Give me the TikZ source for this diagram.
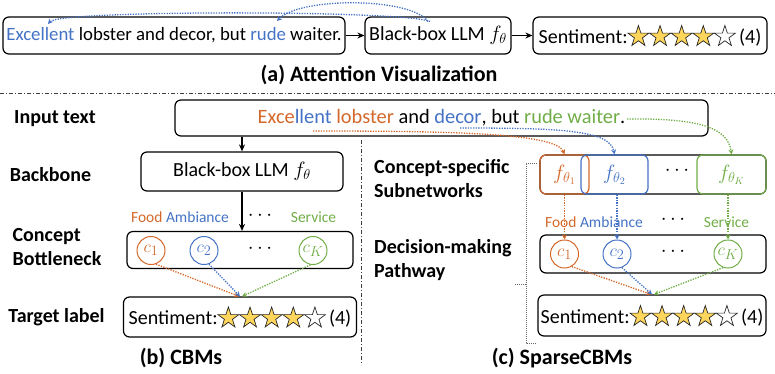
\documentclass[tikz,border=0pt]{standalone}
\usepackage{fontspec}
\setmainfont{Carlito}
\usetikzlibrary{shapes.geometric,arrows.meta}
\definecolor{cor}{RGB}{212,104,42}
\definecolor{cbl}{RGB}{68,114,196}
\definecolor{cgr}{RGB}{112,173,71}
\definecolor{starfill}{RGB}{255,214,92}
\newcommand{\fstar}[1]{\tikz[baseline=-6.5pt,x=1pt,y=1pt,sharp corners]\node[star,star points=5,star point ratio=2.6,draw=black!85,fill=#1,line width=0.7pt,minimum size=22pt,inner sep=0pt,sharp corners]{};}
\newcommand{\rating}{Sentiment:\fstar{starfill}\fstar{starfill}\fstar{starfill}\fstar{starfill}\fstar{white}\,(4)}
\begin{document}
\begin{tikzpicture}[x=1pt,y=-1pt,
  box/.style={draw=black,line width=1.2pt,rounded corners=6pt,inner sep=0pt,align=center},
  txt/.style={font=\fontsize{20}{23}\selectfont},
  sm/.style={font=\fontsize{15.5}{18}\selectfont},
  lbl/.style={font=\fontsize{20}{24}\selectfont\bfseries,align=left,inner sep=0pt},
  ttl/.style={font=\fontsize{22}{26}\selectfont\bfseries,inner sep=0pt},
  arr/.style={-{Stealth[length=7pt,width=6pt]},line width=1.5pt},
  dotln/.style={line width=1.3pt,dash pattern=on 1.3pt off 1.3pt},
  datt/.style={dotln,-{Stealth[length=5pt,width=5pt]}},
  dashdotln/.style={line width=1pt,black!75,dash pattern=on 4pt off 2pt on 1pt off 2pt},
  circ/.style={circle,line width=1pt,minimum size=28pt,inner sep=0pt,font=\fontsize{19}{22}\selectfont},
  ]
\useasboundingbox (0,0) rectangle (775,373);

% ---------- (a) ----------
\node[box,font=\fontsize{18.8}{22}\selectfont,minimum width=342pt,minimum height=37pt] (a1) at (174,35.5)
  {\textcolor{cbl}{Excellent} lobster and decor, but \textcolor{cbl}{rude} waiter.};
\node[box,txt,minimum width=146pt,minimum height=37pt] (a2) at (438,35.5) {Black-box LLM $f_\theta$};
\node[box,txt,minimum width=234pt,minimum height=37pt] (a3) at (650,35.5) {\rating};
\draw[arr] (a1) -- (a2);
\draw[arr] (a2) -- (a3);
\coordinate (wExc) at (48,24);
\coordinate (wRude) at (277,21);
\draw[datt,cbl] ([shift={(-8,5)}]a2.north) .. controls (400,10) and (60,10) .. (wExc);
\draw[datt,cbl] ([shift={(-10,5)}]a2.north) .. controls (410,-3) and (300,-3) .. (wRude);
\node[ttl] (ta) at (379,75) {(a) Attention Visualization};

\draw[dashdotln] (0,93) -- (775,93);
\draw[dashdotln] (361,140) -- (361,365);

% ---------- left labels ----------
\node[lbl] (l1) at (55,119) {Input text};
\node[lbl] (l2) at (50.5,175) {Backbone};
\node[lbl] (l3) at (57,247) {Concept\\Bottleneck};
\node[lbl] (l4) at (56.5,317) {Target label};

% ---------- input ----------
\node[box,font=\fontsize{20.4}{23}\selectfont,minimum width=533pt,minimum height=36pt] (inp) at (441.5,118)
  {\textcolor{cor}{Exce}\textcolor{cbl}{llent} \textcolor{cor}{lobster} and \textcolor{cbl}{decor}, but \textcolor{cgr}{rude waiter}.};

% ---------- (b) CBMs ----------
\node[box,txt,minimum width=202pt,minimum height=39pt] (bb) at (242,171.5) {Black-box LLM $f_\theta$};
\draw[arr] (inp.south -| bb.north) -- (bb.north);
\node[box,minimum width=226pt,minimum height=37pt] (cbL) at (240,250) {};
\draw[arr] (bb.south) -- (bb.south |- cbL.north);
\node[sm] (foodL) at (180,217) {\textcolor{cor}{Food} \textcolor{cbl}{Ambiance}};
\node[txt] (dotsL1) at (260,216) {$\cdots$};
\node[sm,text=cgr] (servL) at (313.5,217) {Service};
\node[circ,draw=cor,text=cor] (c1L) at (151,250.5) {$c_1$};
\node[circ,draw=cbl,text=cbl] (c2L) at (204,250.5) {$c_2$};
\node[txt] (dotsL2) at (260,249) {$\cdots$};
\node[circ,draw=cgr,text=cgr] (ckL) at (313,250.5) {$c_K$};
\node[box,txt,minimum width=233pt,minimum height=40pt] (tgL) at (240,317) {\rating};
\draw[datt,cor] (c1L.-70) -- ([xshift=-1pt]tgL.north);
\draw[datt,cbl] (c2L.-70) -- (tgL.north);
\draw[datt,cgr] (ckL.-100) -- ([xshift=2pt]tgL.north);
\node[ttl] (tb) at (181,358) {(b) CBMs};

% ---------- (c) SparseCBMs ----------
\node[lbl,anchor=west] (l5) at (374,178.5) {Concept-specific\\Subnetworks};
\node[lbl,anchor=west] (l6) at (374,260.5) {Decision-making\\Pathway};
\draw[black!60,line width=0.6pt,dash pattern=on 1pt off 1pt] (537,163) -- (526,163) -- (526,343) -- (537,343);
\draw[black!60,line width=0.6pt,dash pattern=on 1pt off 1pt] (526,284) -- (514,284);

\node[box,minimum width=226pt,minimum height=39pt] (sub) at (653,174.5) {};
\node[box,txt,draw=cor,text=cor,minimum width=49pt,minimum height=39pt] (f1) at (564.5,174.5) {$f_{\theta_1}$};
\node[box,txt,draw=cbl,text=cbl,minimum width=67pt,minimum height=39pt] (f2) at (614.5,174.5) {$f_{\theta_2}$};
\node[txt] (dotsR1) at (677,171) {$\cdots$};
\node[box,txt,draw=cgr,text=cgr,minimum width=69pt,minimum height=39pt] (fK) at (731.5,174.5) {$f_{\theta_K}$};

\coordinate (wLob) at (313,131);
\coordinate (wDec) at (460,128);
\coordinate (wWai) at (627,119);
\draw[datt,cor] (wLob) .. controls (450,131) and (556,133) .. (f1.north);
\draw[datt,cbl] (wDec) .. controls (560,128) and (610,130) .. (f2.north);
\draw[datt,cgr] (wWai) .. controls (700,118) and (728,128) .. (fK.north);

\node[sm] (foodR) at (594,222) {\textcolor{cor}{Food} \textcolor{cbl}{Ambiance}};
\node[txt] (dotsR2) at (673,220) {$\cdots$};
\node[sm,text=cgr] (servR) at (726.5,222) {Service};

\node[box,minimum width=226pt,minimum height=38pt] (dec) at (653,254) {};
\node[circ,draw=cor,text=cor] (c1R) at (564.5,254) {$c_1$};
\node[circ,draw=cbl,text=cbl] (c2R) at (617,254) {$c_2$};
\node[txt] (dotsR3) at (673,252) {$\cdots$};
\node[circ,draw=cgr,text=cgr] (ckR) at (728,254) {$c_K$};

\draw[datt,cor] (f1.south) -- (c1R.north);
\draw[datt,cbl] (c2R.north |- f2.south) -- (c2R.north);
\draw[datt,cgr] (ckR.north |- fK.south) -- (ckR.north);

\node[box,txt,minimum width=228pt,minimum height=41pt] (tgR) at (652,315.5) {\rating};
\draw[datt,cor] (c1R.-60) -- ([xshift=-1pt]tgR.north);
\draw[datt,cbl] (c2R.-70) -- (tgR.north);
\draw[datt,cgr] (ckR.-110) -- ([xshift=2pt]tgR.north);
\node[ttl] (tc) at (562,358) {(c) SparseCBMs};
\end{tikzpicture}
\end{document}
